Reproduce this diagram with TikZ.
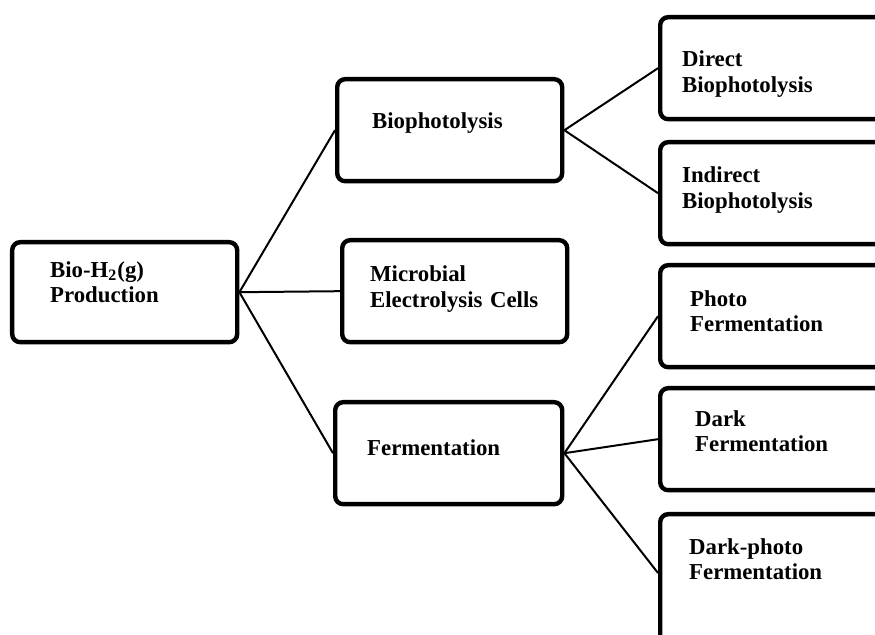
\documentclass[tikz,border=0pt]{standalone}
\usepackage{fontspec}
\setmainfont{Liberation Serif}

\begin{document}
\begin{tikzpicture}[
    x=0.5pt, y=-0.5pt,
    box/.style={draw, line width=2.2pt, rounded corners=4pt, anchor=north west, align=left, minimum height=51pt, font=\fontsize{11.4}{12.7}\selectfont\bfseries},
    link/.style={line width=1pt}
]
    \useasboundingbox (0,0) rectangle (875,635);
    \clip (0,0) rectangle (875,635);
    \fill[white] (0,0) rectangle (875,635);

    % Root
    \node[box, inner xsep=19pt, text width=74.5pt, minimum height=50pt, text depth=23pt] (prod) at (10,240) {Bio-H\textsubscript{2}(g)\\Production};

    % Routes
    \node[box, inner xsep=17.5pt, text width=77.5pt, text depth=9.5pt] (bio) at (335,77) {Biophotolysis};
    \node[box, inner xsep=14pt, text width=84.5pt, text depth=17.5pt] (mec) at (340,238) {Microbial\\Electrolysis Cells};
    \node[box, inner xsep=16pt, text width=81.5pt, text depth=6pt] (ferm) at (333,400) {Fermentation};

    % Sub-routes (cut at the right edge)
    \node[box, inner xsep=11pt, text width=95pt, text depth=9.5pt] (dbio) at (658,15) {Direct\\Biophotolysis};
    \node[box, inner xsep=11pt, text width=95pt, text depth=18.5pt] (ibio) at (658,140) {Indirect\\Biophotolysis};
    \node[box, inner xsep=15pt, text width=87pt, text depth=18pt] (pferm) at (658,263) {Photo\\Fermentation};
    \node[box, inner xsep=17.5pt, text width=82pt, text depth=21pt] (dferm) at (658,386) {Dark\\Fermentation};
    \node[box, inner xsep=14.5pt, text width=88pt, inner ysep=12pt, text depth=40pt] (dpferm) at (658,512) {Dark-photo\\Fermentation};

    % Links
    \draw[link] (prod.east) -- (bio.west);
    \draw[link] (prod.east) -- (mec.west);
    \draw[link] (prod.east) -- (ferm.west);

    \draw[link] (bio.east) -- (dbio.west);
    \draw[link] (bio.east) -- (ibio.west);

    \draw[link] (ferm.east) -- (pferm.west);
    \draw[link] (ferm.east) -- (dferm.west);
    \draw[link] (ferm.east) -- ([yshift=-30.5pt]dpferm.north west);
\end{tikzpicture}
\end{document}
